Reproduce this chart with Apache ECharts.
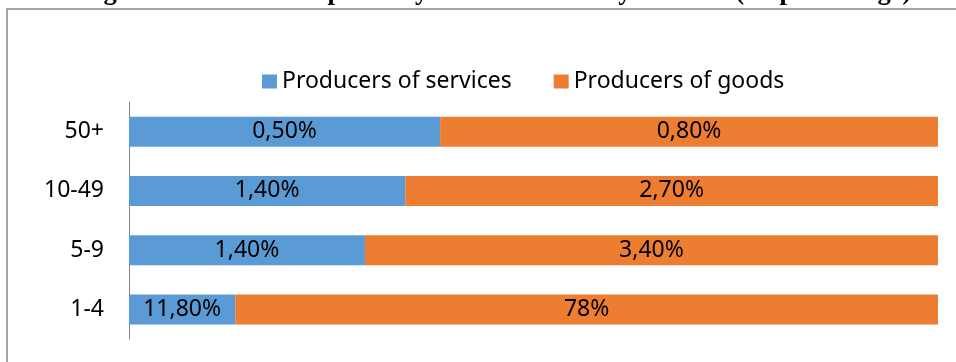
<!DOCTYPE html>
<html>
<head>
<meta charset="utf-8">
<script src="https://cdn.jsdelivr.net/npm/echarts@6/dist/echarts.min.js"></script>
<style>html,body{margin:0;padding:0;background:#fff}#c{width:956px;height:362px}</style>
</head>
<body>
<div id="c"></div>
<script>
const titleText = 'Figure 5: Active enterprises by economic activity and size ( in percentage)';
const categories = ['1-4', '5-9', '10-49', '50+'];
const seriesNames = ['Producers of services', 'Producers of goods'];
const services = [11.8, 1.4, 1.4, 0.5];
const goods = [78, 3.4, 2.7, 0.8];
const servicesLabels = ['11,80%', '1,40%', '1,40%', '0,50%'];
const goodsLabels = ['78%', '3,40%', '2,70%', '0,80%'];

const totals = services.map((v, i) => v + goods[i]);
const servicesShare = services.map((v, i) => v / totals[i] * 100);
const goodsShare = goods.map((v, i) => v / totals[i] * 100);

const chart = echarts.init(document.getElementById('c'));
const FONT = '"Noto Sans", sans-serif';
const labelStyle = (arr) => ({
  show: true, position: 'inside', color: '#000', fontSize: 23, fontFamily: FONT,
  formatter: (p) => arr[p.dataIndex]
});
chart.setOption({
  animation: false,
  title: {
    text: titleText, left: 80, top: -21, padding: 0,
    textStyle: { fontFamily: '"Liberation Serif", serif', fontWeight: 'bold', fontSize: 26.5, color: '#000' }
  },
  graphic: [{
    type: 'rect', shape: { x: 7, y: 9, width: 1200, height: 1200 },
    style: { fill: 'none', stroke: '#A6A6A6', lineWidth: 2 }, silent: true, z: -1
  }],
  legend: {
    left: 262, top: 70, padding: 0, itemWidth: 15, itemHeight: 14, itemGap: 42,
    icon: 'rect',
    textStyle: { fontFamily: FONT, fontSize: 23, color: '#000' },
    data: seriesNames
  },
  grid: { left: 129, right: 18, top: 102, bottom: 23 },
  xAxis: { type: 'value', min: 0, max: 100, show: false },
  yAxis: {
    type: 'category', data: categories,
    axisLine: { show: true, lineStyle: { color: '#868686', width: 1 } },
    axisTick: { show: false },
    axisLabel: { fontFamily: FONT, fontSize: 23, color: '#000', margin: 25 }
  },
  series: [
    { name: seriesNames[0], type: 'bar', stack: 's', data: servicesShare, barWidth: 30,
      itemStyle: { color: '#5B9BD5' }, label: labelStyle(servicesLabels) },
    { name: seriesNames[1], type: 'bar', stack: 's', data: goodsShare, barWidth: 30,
      itemStyle: { color: '#ED7D31' }, label: labelStyle(goodsLabels) }
  ]
});
</script>
</body>
</html>
